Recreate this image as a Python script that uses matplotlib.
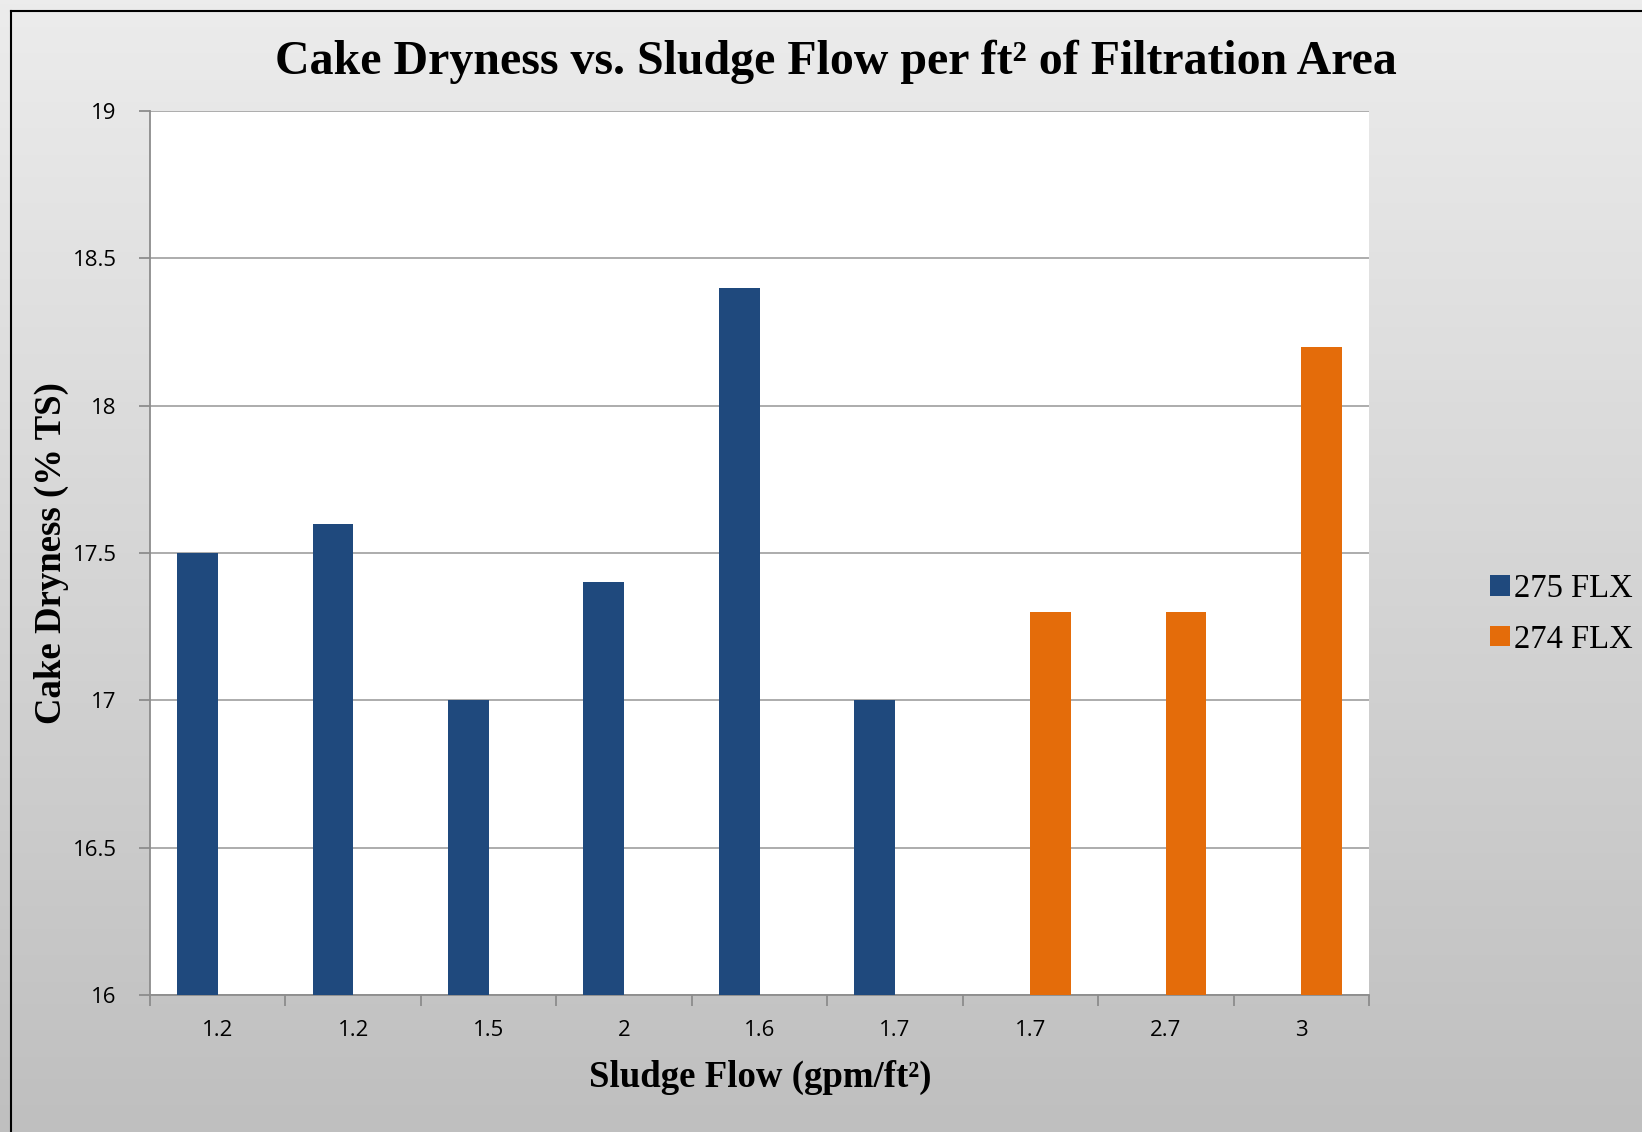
import numpy as np
import matplotlib
matplotlib.use("Agg")
import matplotlib.pyplot as plt
from matplotlib.lines import Line2D

categories = ["1.2", "1.2", "1.5", "2", "1.6", "1.7", "1.7", "2.7", "3"]
flx275 = [17.5, 17.6, 17.0, 17.4, 18.4, 17.0, np.nan, np.nan, np.nan]
flx274 = [np.nan, np.nan, np.nan, np.nan, np.nan, np.nan, 17.3, 17.3, 18.2]
yticks = [16, 16.5, 17, 17.5, 18, 18.5, 19]

blue = "#1f497d"
orange = "#e46c0a"
serif = ["Liberation Serif", "DejaVu Serif"]
sans = ["Open Sans", "DejaVu Sans"]

W, H = 1642, 1132
fig = plt.figure(figsize=(W / 100, H / 100), dpi=100)

# gradient background
bg = fig.add_axes([0, 0, 1, 1], zorder=-10)
grad = np.linspace(0, 1, 256).reshape(-1, 1)
bg.imshow(grad, aspect="auto", cmap=matplotlib.colors.LinearSegmentedColormap.from_list(
    "g", ["#ececec", "#bfbfbf"]), extent=[0, 1, 0, 1], origin="upper")
bg.set_xlim(0, 1)
bg.set_ylim(0, 1)
bg.axis("off")
# chart border (left and top visible)
bx = 11 / W
by = 1 - 11 / H
bg.add_line(Line2D([bx, bx], [0, by], color="black", lw=1.5))
bg.add_line(Line2D([bx, 1], [by, by], color="black", lw=1.5))

ax = fig.add_axes([150 / W, 1 - 995 / H, (1369 - 150) / W, (995 - 111) / H])
ax.set_facecolor("white")

x = np.arange(len(categories))
bw = 0.30
ax.bar(x - bw / 2, np.array(flx275) - 16, bw, bottom=16, color=blue, label="275 FLX", zorder=3)
ax.bar(x + bw / 2, np.array(flx274) - 16, bw, bottom=16, color=orange, label="274 FLX", zorder=3)

ax.set_xlim(-0.5, len(categories) - 0.5)
ax.set_ylim(16, 19)
ax.set_yticks(yticks)
ax.set_yticklabels(["16", "16.5", "17", "17.5", "18", "18.5", "19"], fontfamily=sans, fontsize=16)
ax.set_xticks(x)
ax.set_xticklabels(categories, fontfamily=sans, fontsize=16)
ax.set_xticks(np.arange(-0.5, len(categories)), minor=True)
ax.tick_params(axis="x", which="major", length=0, pad=18)
ax.tick_params(axis="x", which="minor", length=8, color="#8c8c8c", width=1.3)
ax.tick_params(axis="y", length=8, color="#8c8c8c", width=1.3, pad=16)
ax.grid(axis="y", color="#a6a6a6", lw=1.3, zorder=0)
for s in ["top", "right"]:
    ax.spines[s].set_visible(False)
for s in ["left", "bottom"]:
    ax.spines[s].set_color("#8c8c8c")
    ax.spines[s].set_linewidth(1.3)

fig.text(836 / W, 1 - 62 / H, "Cake Dryness vs. Sludge Flow per ft² of Filtration Area",
         ha="center", va="center", fontsize=34.5, fontweight="bold", fontfamily=serif)
fig.text(760 / W, 1 - 1077 / H, "Sludge Flow (gpm/ft²)", ha="center", va="center",
         fontsize=26.5, fontweight="bold", fontfamily=serif)
fig.text(51 / W, 1 - 553 / H, "Cake Dryness (% TS)", ha="center", va="center", rotation=90,
         fontsize=26.5, fontweight="bold", fontfamily=serif)

leg = fig.legend(handles=ax.containers, labels=["275 FLX", "274 FLX"],
                 loc="center left", bbox_to_anchor=(1490 / W, 1 - 614 / H),
                 frameon=False, prop={"family": serif, "size": 23.5},
                 handlelength=0.6, handleheight=0.6, handletextpad=0.12, labelspacing=0.62,
                 borderaxespad=0, borderpad=0)

fig.savefig("out.png", dpi=100)
